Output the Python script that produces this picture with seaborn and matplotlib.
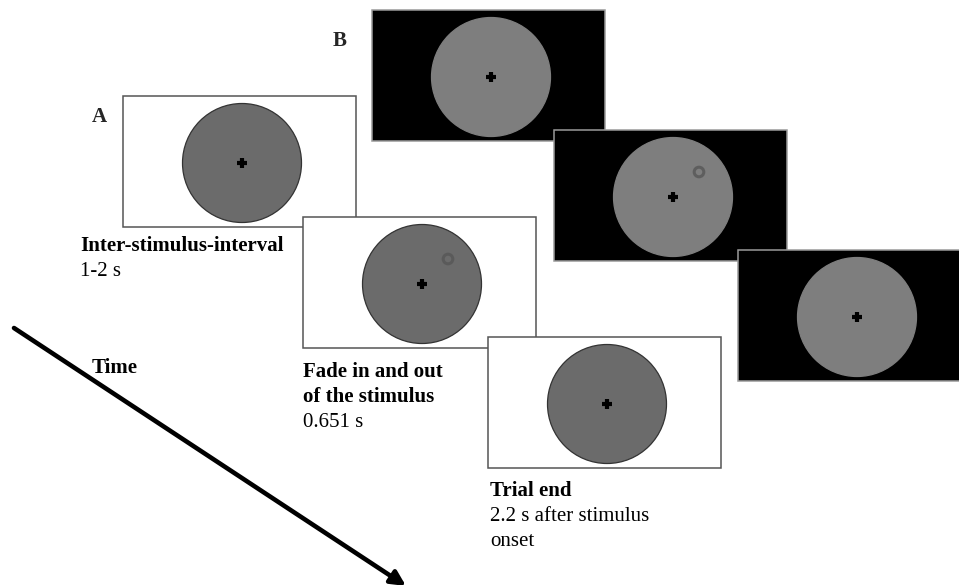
import numpy as np
import pandas as pd
import seaborn as sns
import matplotlib.pyplot as plt
from matplotlib.patches import Rectangle, Circle

# panel contents
panel_labels = ['A', 'B']
titles_a = [['Inter-stimulus-interval'], ['Fade in and out', 'of the stimulus'], ['Trial end']]
times_a = [['1-2 s'], ['0.651 s'], ['2.2 s after stimulus', 'onset']]
has_target = [False, True, False]
arrow_label = 'Time'

# layout (pixel space of the 959x585 canvas)
frames_a = [(123, 96), (303, 217), (488, 337)]
frames_b = [(372, 10), (554, 130), (738, 250)]
frame_w, frame_h = 233, 131
title_pos = [(80, 251), (303, 377), (490, 496)]
line_step = 25

sns.set_theme(style='white')
plt.rcParams['font.family'] = ['Liberation Serif', 'DejaVu Serif']

fig = plt.figure(figsize=(9.59, 5.85), dpi=100)
ax = fig.add_axes([0, 0, 1, 1])
ax.set_xlim(0, 959)
ax.set_ylim(585, 0)
ax.axis('off')


def draw_frame(x0, y0, z, dark, target):
    bg = 'black' if dark else 'white'
    edge = '#9a9a9a' if dark else '#555555'
    disc = '#7e7e7e' if dark else '#6b6b6b'
    ax.add_patch(Rectangle((x0, y0), frame_w, frame_h, facecolor=bg,
                           edgecolor=edge, lw=1.1, zorder=z))
    cx, cy = x0 + 119, y0 + 67
    ax.add_patch(Circle((cx, cy), 59.5, facecolor=disc,
                        edgecolor='#333333' if not dark else disc, lw=0.9, zorder=z + 0.1))
    fix = pd.DataFrame({'x': [cx], 'y': [cy]})
    sns.scatterplot(data=fix, x='x', y='y', marker='+', s=60, linewidth=3,
                    color='black', ax=ax, zorder=z + 0.3, legend=False)
    if target:
        ring = '#5a5a5a' if not dark else '#5e5e5e'
        ax.add_patch(Circle((cx + 26, cy - 25), 4.8, facecolor='none',
                            edgecolor=ring, lw=2.2, zorder=z + 0.2))


for i, (x0, y0) in enumerate(frames_a):
    draw_frame(x0, y0, 2 + i, False, has_target[i])
for i, (x0, y0) in enumerate(frames_b):
    draw_frame(x0, y0, 2 + i, True, has_target[i])

ax.set_xlim(0, 959)
ax.set_ylim(585, 0)
ax.set_xlabel('')
ax.set_ylabel('')

fs = 15
ax.text(92, 122, panel_labels[0], fontsize=fs, fontweight='bold', va='baseline', ha='left')
ax.text(333, 46, panel_labels[1], fontsize=fs, fontweight='bold', va='baseline', ha='left')

for (tx, ty), title, t in zip(title_pos, titles_a, times_a):
    lines = [(s, 'bold') for s in title] + [(s, 'normal') for s in t]
    for k, (s, w) in enumerate(lines):
        ax.text(tx, ty + k * line_step, s, fontsize=fs, fontweight=w,
                va='baseline', ha='left', color='black')

ax.text(92, 373, arrow_label, fontsize=fs, fontweight='bold', va='baseline', ha='left',
        color='black')
ax.annotate('', xy=(406, 586), xytext=(14, 328), annotation_clip=False,
            arrowprops=dict(arrowstyle='-|>', lw=3.3, color='black', mutation_scale=22,
                            shrinkA=0, shrinkB=0))

fig.savefig('out.png', dpi=100)
